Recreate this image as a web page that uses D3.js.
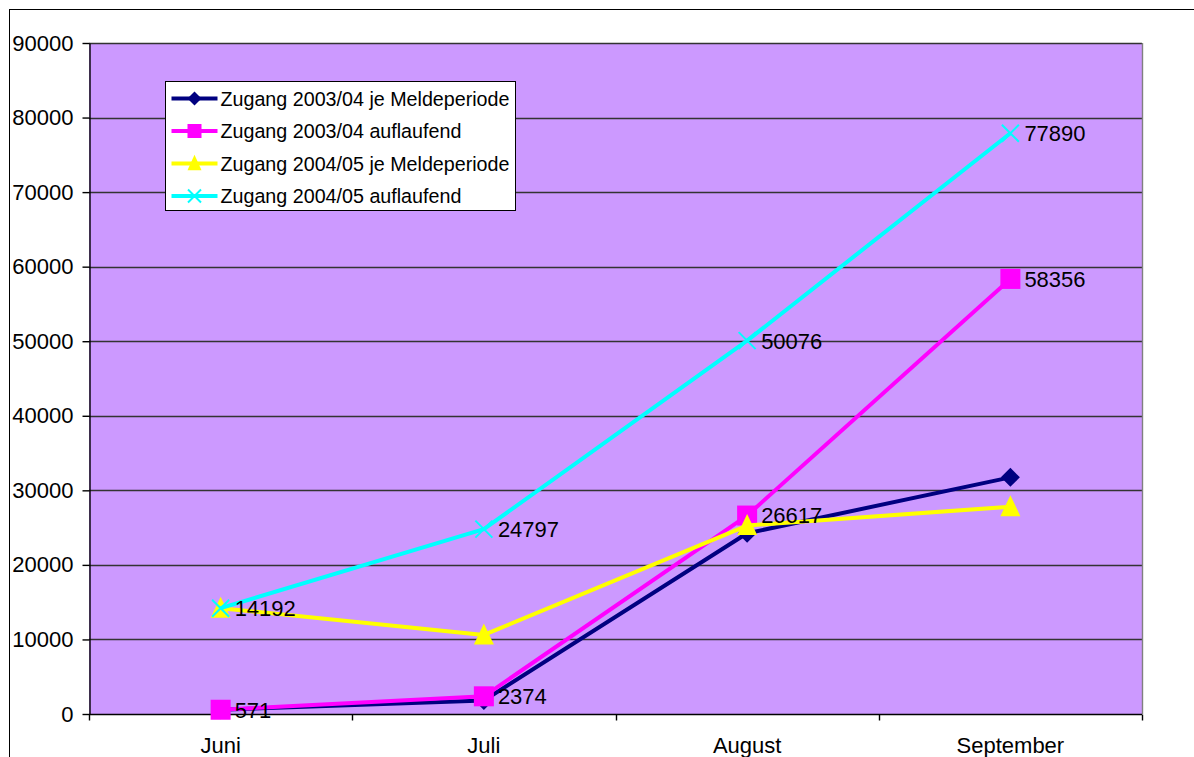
<!DOCTYPE html>
<html>
<head>
<meta charset="utf-8">
<script src="https://cdn.jsdelivr.net/npm/d3@7"></script>
<style>
  html, body { margin: 0; padding: 0; background: #fff; }
  svg { display: block; font-family: "Liberation Sans", Arial, sans-serif; }
</style>
</head>
<body>
<div id="chart"></div>
<script>
// data
const months = ["Juni", "Juli", "August", "September"];
const seriesNames = [
    "Zugang 2003/04 je Meldeperiode",
    "Zugang 2003/04 auflaufend",
    "Zugang 2004/05 je Meldeperiode",
    "Zugang 2004/05 auflaufend"
];
const zugang0304Periode = [571, 1803, 24243, 31739];
const zugang0304Auflaufend = [571, 2374, 26617, 58356];
const zugang0405Periode = [14192, 10605, 25279, 27814];
const zugang0405Auflaufend = [14192, 24797, 50076, 77890];
const yTicks = [0, 10000, 20000, 30000, 40000, 50000, 60000, 70000, 80000, 90000];

const width = 1194, height = 757;
const margin = { top: 43, right: 52, bottom: 43, left: 89 };
const plotRight = width - margin.right;
const plotBottom = height - margin.bottom;

const series = [
    { name: seriesNames[0], values: zugang0304Periode, color: "#000080", marker: "diamond", labels: false },
    { name: seriesNames[1], values: zugang0304Auflaufend, color: "#FF00FF", marker: "square", labels: true },
    { name: seriesNames[2], values: zugang0405Periode, color: "#FFFF00", marker: "triangle", labels: false },
    { name: seriesNames[3], values: zugang0405Auflaufend, color: "#00FFFF", marker: "cross", labels: true }
];

const xBand = d3.scaleBand().domain(months).range([margin.left, plotRight]);
const xScale = m => xBand(m) + xBand.bandwidth() / 2;
const yScale = d3.scaleLinear().domain([0, 90000]).range([plotBottom, margin.top]);

const svg = d3.select("#chart").append("svg")
    .attr("width", width)
    .attr("height", height)
    .attr("viewBox", [0, 0, width, height]);

// outer chart frame (runs off the right/bottom edge)
svg.append("rect")
    .attr("x", 9.5).attr("y", 9.5)
    .attr("width", width + 20).attr("height", height + 20)
    .attr("fill", "#fff").attr("stroke", "#000").attr("stroke-width", 1);

// plot area
svg.append("rect")
    .attr("x", margin.left).attr("y", margin.top)
    .attr("width", plotRight - margin.left).attr("height", plotBottom - margin.top)
    .attr("fill", "#CC99FF");

// gridlines
svg.append("g")
    .selectAll("line")
    .data(yTicks.filter(d => d > 0))
    .join("line")
    .attr("x1", margin.left).attr("x2", plotRight)
    .attr("y1", d => Math.round(yScale(d)) + 0.5).attr("y2", d => Math.round(yScale(d)) + 0.5)
    .attr("stroke", "#333").attr("stroke-width", 1.4);

// right border of plot area
svg.append("line")
    .attr("x1", plotRight + 0.5).attr("x2", plotRight + 0.5)
    .attr("y1", margin.top).attr("y2", plotBottom)
    .attr("stroke", "#808080").attr("stroke-width", 1.4);

// y axis
svg.append("g")
    .attr("transform", `translate(${margin.left + 0.5},0)`)
    .style("font-size", "22px")
    .call(d3.axisLeft(yScale).tickValues(yTicks).tickFormat(d3.format("d")).tickSize(7).tickSizeOuter(0).tickPadding(9))
    .call(g => g.select(".domain").attr("stroke", "#000").attr("stroke-width", 1.4))
    .call(g => g.selectAll(".tick line").attr("stroke", "#000").attr("stroke-width", 1.4))
    .call(g => g.selectAll(".tick text").attr("fill", "#000").attr("font-family", "Liberation Sans, Arial, sans-serif"));

// x axis
const xAxisG = svg.append("g")
    .attr("transform", `translate(0,${plotBottom + 0.5})`);
xAxisG.append("line")
    .attr("x1", margin.left).attr("x2", plotRight)
    .attr("stroke", "#000").attr("stroke-width", 1.4);
const boundaries = months.map(m => xBand(m)).concat([plotRight]);
xAxisG.selectAll("line.tick")
    .data(boundaries)
    .join("line")
    .attr("class", "tick")
    .attr("x1", d => Math.round(d) + 0.5).attr("x2", d => Math.round(d) + 0.5)
    .attr("y1", 0).attr("y2", 6)
    .attr("stroke", "#000").attr("stroke-width", 1.4);
xAxisG.selectAll("text")
    .data(months)
    .join("text")
    .attr("x", d => xScale(d))
    .attr("y", 38)
    .attr("text-anchor", "middle")
    .style("font-size", "22px")
    .text(d => d);

// markers
const drawMarker = (g, type, color, size) => {
    if (type === "diamond") {
        g.append("path").attr("d", `M0,${-size / 2}L${size / 2},0L0,${size / 2}L${-size / 2},0Z`).attr("fill", color);
    } else if (type === "square") {
        g.append("rect").attr("x", -size / 2).attr("y", -size / 2).attr("width", size).attr("height", size).attr("fill", color);
    } else if (type === "triangle") {
        const h = size * 0.95;
        g.append("path").attr("d", `M0,${-h / 2 - 2}L${size / 2},${h / 2}L${-size / 2},${h / 2}Z`).attr("fill", color);
    } else if (type === "cross") {
        const s = size / 2;
        g.append("path").attr("d", `M${-s},${-s}L${s},${s}M${-s},${s}L${s},${-s}`)
            .attr("stroke", color).attr("stroke-width", 2).attr("fill", "none");
    }
};

const markerSize = { diamond: 19, square: 20, triangle: 20, cross: 17 };

const line = d3.line()
    .x((d, i) => xScale(months[i]))
    .y(d => yScale(d));

series.forEach(s => {
    const g = svg.append("g");
    g.append("path")
        .datum(s.values)
        .attr("d", line)
        .attr("fill", "none")
        .attr("stroke", s.color)
        .attr("stroke-width", 4)
        .attr("stroke-linejoin", "round");
    g.selectAll("g.marker")
        .data(s.values)
        .join("g")
        .attr("class", "marker")
        .attr("transform", (d, i) => `translate(${xScale(months[i])},${yScale(d)})`)
        .each(function () { drawMarker(d3.select(this), s.marker, s.color, markerSize[s.marker]); });
});

// data labels
series.filter(s => s.labels).forEach(s => {
    svg.append("g")
        .selectAll("text")
        .data(s.values)
        .join("text")
        .attr("x", (d, i) => xScale(months[i]) + 14)
        .attr("y", d => yScale(d))
        .attr("dy", "0.36em")
        .style("font-size", "22px")
        .attr("fill", "#000")
        .text(d => d);
});

// legend
const legend = svg.append("g").attr("transform", "translate(165.5,81.5)");
legend.append("rect")
    .attr("width", 350).attr("height", 129)
    .attr("fill", "#fff").attr("stroke", "#000").attr("stroke-width", 1);
series.forEach((s, i) => {
    const y = 17 + i * 32.5;
    const row = legend.append("g").attr("transform", `translate(0,${y})`);
    row.append("line")
        .attr("x1", 6).attr("x2", 52)
        .attr("stroke", s.color).attr("stroke-width", 4);
    const mg = row.append("g").attr("transform", "translate(29,0)");
    drawMarker(mg, s.marker, s.color, s.marker === "cross" ? 13 : 14);
    row.append("text")
        .attr("x", 55)
        .attr("dy", "0.36em")
        .style("font-size", "19.7px")
        .text(s.name);
});
</script>
</body>
</html>
